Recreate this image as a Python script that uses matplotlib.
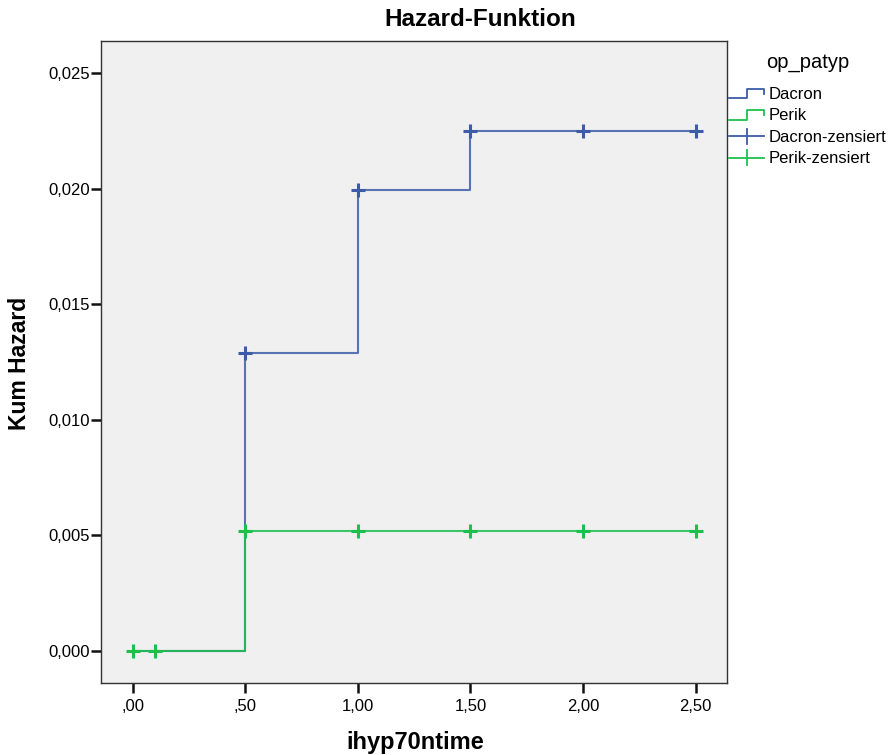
import matplotlib
matplotlib.use("Agg")
import matplotlib.pyplot as plt
from matplotlib.legend_handler import HandlerBase
from matplotlib.lines import Line2D

# Data
dacron_t = [0.0, 0.5, 1.0, 1.5, 2.5]
dacron_h = [0.0, 0.01289, 0.01995, 0.02249, 0.02249]
dacron_cens_t = [0.5, 1.0, 1.5, 2.0, 2.5]
dacron_cens_h = [0.01289, 0.01995, 0.02249, 0.02249, 0.02249]

perik_t = [0.0, 0.5, 2.5]
perik_h = [0.0, 0.00517, 0.00517]
perik_cens_t = [0.0, 0.1, 0.5, 1.0, 1.5, 2.0, 2.5]
perik_cens_h = [0.0, 0.0, 0.00517, 0.00517, 0.00517, 0.00517, 0.00517]

xticks = [0.0, 0.5, 1.0, 1.5, 2.0, 2.5]
xticklabels = [",00", ",50", "1,00", "1,50", "2,00", "2,50"]
yticks = [0.0, 0.005, 0.010, 0.015, 0.020, 0.025]
yticklabels = ["0,000", "0,005", "0,010", "0,015", "0,020", "0,025"]

blue = "#3d5ca8"
green = "#1dbf4f"

plt.rcParams['font.family'] = ['Liberation Sans', 'DejaVu Sans']

fig = plt.figure(figsize=(8.88, 7.55), dpi=100)
ax = fig.add_axes([0.1137, 0.0954, 0.705, 0.8503])
ax.set_facecolor("#f0f0f0")

ax.step(dacron_t, dacron_h, where="post", color=blue, lw=1.5, alpha=0.85)
ax.step(perik_t, perik_h, where="post", color=green, lw=1.5, alpha=0.85)
ax.plot(dacron_cens_t, dacron_cens_h, ls="none", marker="+", ms=10, mew=2.2, color=blue)
ax.plot(perik_cens_t, perik_cens_h, ls="none", marker="+", ms=10, mew=2.2, color=green)

ax.set_xlim(-0.142, 2.64)
ax.set_ylim(-0.00138, 0.02638)
ax.set_xticks(xticks)
ax.set_xticklabels(xticklabels)
ax.set_yticks(yticks)
ax.set_yticklabels(yticklabels)
ax.tick_params(direction="out", length=7.5, width=1.8, labelsize=12, color="#111111")
ax.tick_params(axis="y", pad=0.5)
ax.tick_params(axis="x", pad=4)
for s in ax.spines.values():
    s.set_color("#333333")
    s.set_linewidth(1.0)

fig.text(480 / 888, 1 - 19 / 755, "Hazard-Funktion", fontsize=17.5, fontweight="bold",
         ha="center", va="center")
fig.text(415 / 888, 1 - 742 / 755, "ihyp70ntime", fontsize=17, fontweight="bold",
         ha="center", va="center")
fig.text(20 / 888, 1 - 363 / 755, "Kum Hazard", fontsize=16.5, fontweight="bold",
         ha="center", va="center", rotation=90)
fig.text(808 / 888, 1 - 62 / 755, "op_patyp", fontsize=14.5, ha="center", va="center")


class StepHandler(HandlerBase):
    def create_artists(self, legend, orig_handle, xdescent, ydescent, width, height, fontsize, trans):
        x0 = -xdescent
        y0 = -ydescent
        xs = [x0, x0 + width * 0.5, x0 + width * 0.5, x0 + width, x0 + width]
        ys = [y0 + height * 0.05, y0 + height * 0.05, y0 + height * 0.85, y0 + height * 0.85, y0 + height * 0.45]
        l = Line2D(xs, ys, color=orig_handle.get_color(), lw=1.3, transform=trans)
        return [l]


class CrossHandler(HandlerBase):
    def create_artists(self, legend, orig_handle, xdescent, ydescent, width, height, fontsize, trans):
        x0 = -xdescent
        y0 = -ydescent
        c = orig_handle.get_color()
        hl = Line2D([x0, x0 + width], [y0 + height * 0.45] * 2, color=c, lw=1.3, transform=trans)
        vl = Line2D([x0 + width * 0.5] * 2, [y0 - height * 0.2, y0 + height * 1.1], color=c, lw=1.3, transform=trans)
        return [hl, vl]


h1 = Line2D([], [], color=blue)
h2 = Line2D([], [], color=green)
h3 = Line2D([], [], color=blue)
h4 = Line2D([], [], color=green)

leg = fig.legend([h1, h2, h3, h4], ["Dacron", "Perik", "Dacron-zensiert", "Perik-zensiert"],
                 loc="upper left", bbox_to_anchor=(729 / 888, 1 - 87 / 755),
                 frameon=False, fontsize=12, borderpad=0, borderaxespad=0,
                 handlelength=2.1, handletextpad=0.25, labelspacing=0.38,
                 handler_map={h1: StepHandler(), h2: StepHandler(),
                              h3: CrossHandler(), h4: CrossHandler()})

fig.savefig("out.png", dpi=100)
